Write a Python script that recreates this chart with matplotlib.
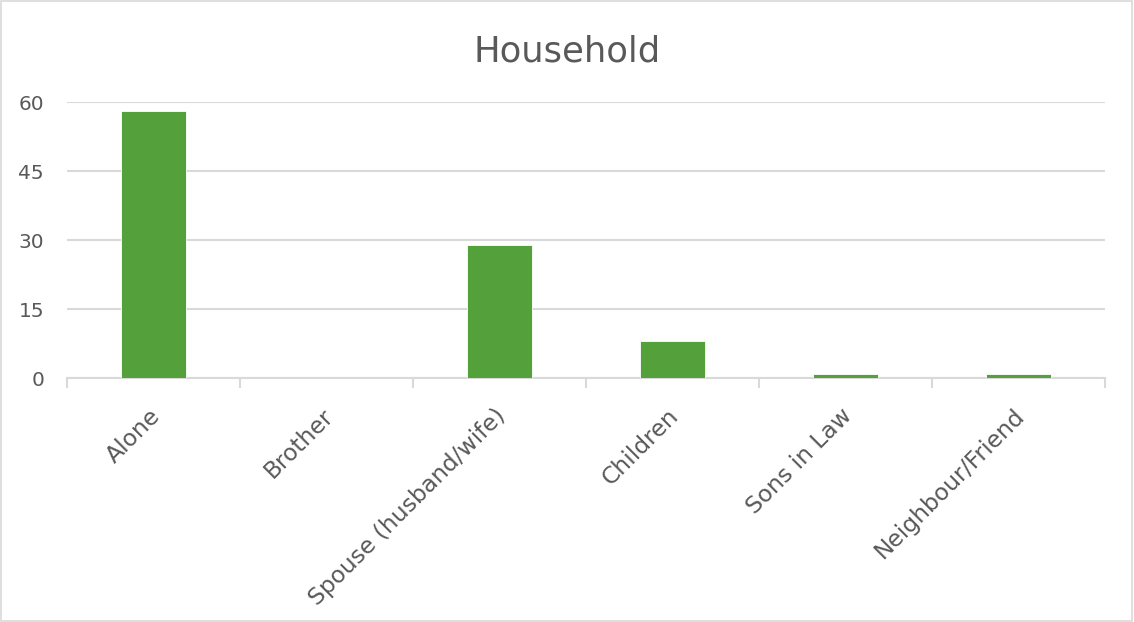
import matplotlib
matplotlib.use("Agg")
import matplotlib.pyplot as plt
from matplotlib.patches import Rectangle
from matplotlib.transforms import ScaledTranslation

categories = ["Alone", "Brother", "Spouse (husband/wife)", "Children", "Sons in Law", "Neighbour/Friend"]
values = [58, 0, 29, 8, 1, 1]
yticks = [0, 15, 30, 45, 60]

plt.rcParams['font.family'] = ['DejaVu Sans']
text_color = '#595959'
grid_color = '#d9d9d9'
bar_color = '#54a03a'

fig = plt.figure(figsize=(11.34, 6.22), dpi=100)
fig.patches.append(Rectangle((0.001, 0.002), 0.997, 0.996, transform=fig.transFigure,
                             fill=False, edgecolor='#d9d9d9', linewidth=1.2))
ax = fig.add_axes([0.0591, 0.392, 0.9153, 0.444])

x = list(range(len(categories)))
ax.bar(x, values, width=0.375, color=bar_color, edgecolor='white', linewidth=0.6, zorder=3)
ax.set_xlim(-0.5, len(categories) - 0.5)
ax.set_ylim(0, 60)
ax.set_yticks(yticks)
ax.yaxis.grid(True, color=grid_color, linewidth=1.5, zorder=0)
ax.set_axisbelow(True)
for s in ['top', 'right', 'left']:
    ax.spines[s].set_visible(False)
ax.spines['bottom'].set_color(grid_color)
ax.spines['bottom'].set_linewidth(1.5)
ax.tick_params(axis='y', length=0, labelsize=14.5, labelcolor=text_color, pad=16.5)

ax.set_xticks([i - 0.5 for i in range(len(categories) + 1)], minor=False)
ax.set_xticklabels([])
ax.tick_params(axis='x', which='major', length=7, width=1.5, color=grid_color, direction='out')
ax.set_xticks(x, minor=True)
ax.set_xticklabels(categories, minor=True, rotation=45, ha='right', va='top',
                   rotation_mode='anchor', fontsize=16.8, color=text_color)
ax.tick_params(axis='x', which='minor', length=0, pad=19)
for lbl in ax.get_xticklabels(minor=True):
    lbl.set_transform(lbl.get_transform() + ScaledTranslation(-0.05, 0, fig.dpi_scale_trans))

fig.text(0.5, 1 - 61 / 622, "Household", ha='center', va='baseline', fontsize=25.5, color=text_color)

fig.savefig("out.png", dpi=100, facecolor='white')
